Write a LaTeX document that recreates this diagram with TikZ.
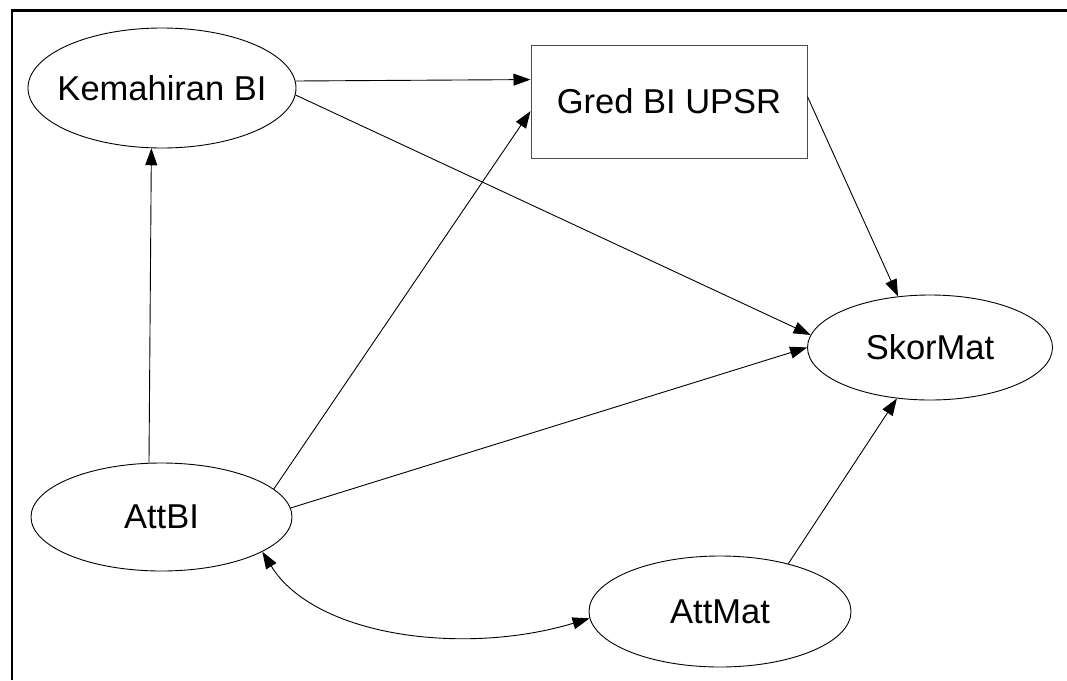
\documentclass[tikz,border=0pt]{standalone}
\usepackage{fontspec}
\setmainfont{Liberation Sans}
\usetikzlibrary{shapes.geometric,arrows.meta}
\begin{document}
\begin{tikzpicture}[x=1pt,y=-1pt,
  >={Triangle[length=17pt,width=12pt]},
  lbl/.style={font=\fontsize{34.5}{40}\selectfont},
  latent/.style={ellipse, draw=black, line width=0.9pt, inner sep=0pt, lbl},
  observed/.style={rectangle, draw=black!70, line width=1pt, inner sep=0pt,
                   minimum width=276pt, minimum height=113pt, lbl},
  link/.style={line width=0.9pt, ->},
  corr/.style={line width=0.9pt, <->}
]
\useasboundingbox (0,0) rectangle (1067,680);
% frame
\draw[line width=2.5pt] (12,680) -- (12,10.5) -- (1067,10.5);

% variables
\node[latent, minimum width=268pt, minimum height=120pt] (kem) at (162,88) {\makebox[0pt]{Kemahiran BI}};
\node[observed] (gred) at (669,101.5) {\makebox[0pt]{Gred BI UPSR}};
\node[latent, minimum width=245pt, minimum height=105pt] (skor) at (930,347.5) {\makebox[0pt]{SkorMat}};
\node[latent, minimum width=261pt, minimum height=108pt] (attbi) at (161.5,517) {\makebox[0pt]{AttBI}};
\node[latent, minimum width=262pt, minimum height=111pt] (attmat) at (720,611.5) {\makebox[0pt]{AttMat}};

% paths
\draw[link] (kem.3.4) -- (gred.171.1);
\draw[link] (kem.-3.9) -- (skor.174.2);
\draw[link] (attbi.103) -- (kem.260.5);
\draw[link] (attbi.14.3) -- (gred.184.8);
\draw[link] (attbi.4.9) -- (skor.180.7);
\draw[link] (gred.2.7) -- (skor.122.2);
\draw[link] (attmat.35.9) -- (skor.237.8);
\draw[corr] (attbi.-19.2) .. controls (315,637) and (465,656) .. (attmat.183.3);
\end{tikzpicture}
\end{document}
